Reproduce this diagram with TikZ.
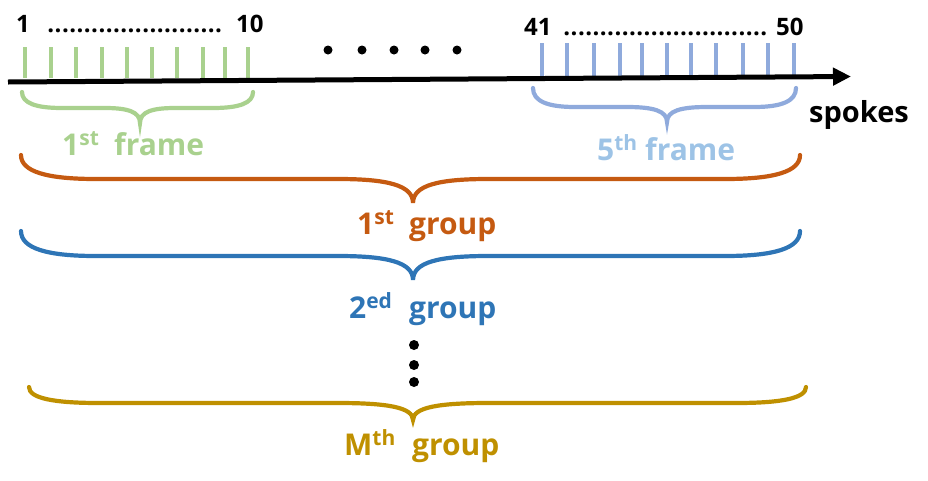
\documentclass[tikz,border=0pt]{standalone}
\usepackage{fontspec}
\setmainfont{Open Sans}
\usetikzlibrary{arrows.meta}
\definecolor{cgreen}{HTML}{A9D18E}
\definecolor{ctick}{HTML}{8FAADC}
\definecolor{cfive}{HTML}{9DC3E6}
\definecolor{corange}{HTML}{C55A11}
\definecolor{cblue}{HTML}{2E75B6}
\definecolor{cgold}{HTML}{BF9000}
\newcommand\mybrace[9]{% color,x1,x2,xc,ytop,ymid,ytip,w,c
  \draw[bracestyle,#1] (#2,#5) .. controls (#2,#5+0.7*#6-0.7*#5) and (#2+0.35*#8,#6) .. (#2+#8,#6)
    -- (#4-#9,#6) .. controls (#4-0.35*#9,#6) and (#4,#6+0.25*#7-0.25*#6) .. (#4,#7)
    .. controls (#4,#6+0.25*#7-0.25*#6) and (#4+0.35*#9,#6) .. (#4+#9,#6)
    -- (#3-#8,#6) .. controls (#3-0.35*#8,#6) and (#3,#5+0.7*#6-0.7*#5) .. (#3,#5);}
\newcommand\dotrow[1]{\hbox to #1pt{\leaders\hbox to 7.3pt{\hss.\hss}\hfill}}
\begin{document}
\begin{tikzpicture}[x=1pt,y=-1pt,
  bracestyle/.style={line width=4.2pt,line cap=round},
  tickg/.style={line width=4pt,cgreen},
  tickb/.style={line width=4pt,ctick},
  num/.style={inner sep=0pt,anchor=base west,font=\fontsize{24}{28}\selectfont\bfseries},
  lab/.style={inner sep=0pt,anchor=base west,font=\fontsize{30}{34}\selectfont\bfseries},
  bigdot/.style={fill=black,draw=none}]
\useasboundingbox (0,0) rectangle (928,480);
% ticks
\foreach \x in {25,51,76,102,127,152,177,203,225,248}
  \draw[tickg] (\x,47) -- (\x,78);
\foreach \x in {542,567,594,620,642,667,691,716,743,768,794}
  \draw[tickb] (\x,43) -- (\x,76);
% axis
\coordinate (a0) at (8,82);
\coordinate (a1) at (851,76.5);
\draw[line width=5pt,-{Triangle[length=18pt,width=17pt]}] (a0) -- (a1);
% labels top
\node[num] (n1) at (16,32) {1};
\node[num] (d1) at (47,32) {\dotrow{182}};
\node[num] (n10) at (236,32) {10};
\node[num] (n41) at (524,35) {41};
\node[num] (d2) at (563,35) {\dotrow{207}};
\node[num] (n50) at (776,35) {50};
\node[lab,font=\fontsize{29}{33}\selectfont\bfseries] (sp) at (809,122) {spokes};
% big dots
\foreach \x in {328,362,394,425,457}
  \fill[bigdot] (\x,50) circle (4.5);
\foreach \y in {345,365,382}
  \fill[bigdot] (414,\y) circle (5);
% braces
\mybrace{cgreen}{22}{253}{140}{92}{108}{123}{40}{35}
\mybrace{ctick}{533}{796}{667}{88}{107}{122}{42}{40}
\mybrace{corange}{21}{800}{413}{155}{179}{203}{75}{75}
\mybrace{cblue}{21}{800}{413}{231}{256}{280}{75}{75}
\mybrace{cgold}{29}{806}{413}{387}{403}{420}{70}{75}
% brace labels
\node[lab,text=cgreen] (f1) at (62,155) {1\textsuperscript{st}};
\node[lab,text=cgreen] (f1b) at (114,155) {frame};
\node[lab,text=cfive] (f5) at (597,160) {5\textsuperscript{th}};
\node[lab,text=cfive] (f5b) at (645,160) {frame};
\node[lab,text=corange] (g1) at (357,234) {1\textsuperscript{st}};
\node[lab,text=corange] (g1b) at (409,234) {group};
\node[lab,text=cblue] (g2) at (349,318) {2\textsuperscript{ed}};
\node[lab,text=cblue] (g2b) at (409,318) {group};
\node[lab,text=cgold] (gm) at (344,455) {M\textsuperscript{th}};
\node[lab,text=cgold] (gmb) at (412,455) {group};
\end{tikzpicture}
\end{document}
